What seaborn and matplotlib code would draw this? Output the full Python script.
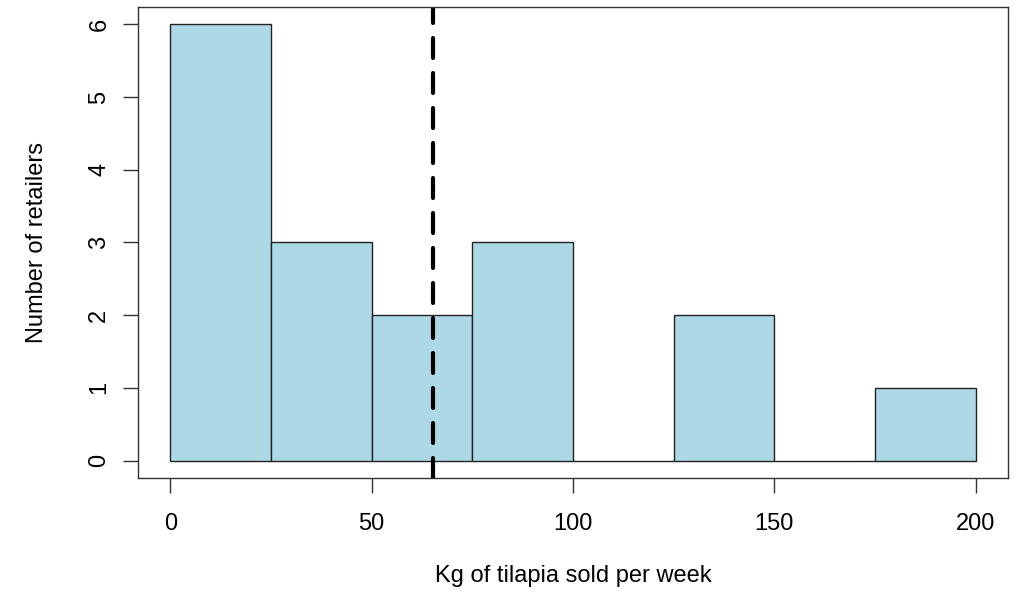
import matplotlib
matplotlib.use("Agg")
import matplotlib.pyplot as plt
import seaborn as sns
import numpy as np

# Data
bin_edges = [0, 25, 50, 75, 100, 125, 150, 175, 200]
bin_centers = [12.5, 37.5, 62.5, 87.5, 112.5, 137.5, 162.5, 187.5]
counts = [6, 3, 2, 3, 0, 2, 0, 1]
mean_value = 65.2
x_ticks = [0, 50, 100, 150, 200]
y_ticks = [0, 1, 2, 3, 4, 5, 6]
x_label = "Kg of tilapia sold per week"
y_label = "Number of retailers"

sns.set_style("white")
plt.rcParams['font.family'] = ['Liberation Sans', 'DejaVu Sans']
plt.rcParams['text.color'] = 'black'
plt.rcParams['axes.labelcolor'] = 'black'
plt.rcParams['xtick.color'] = 'black'
plt.rcParams['ytick.color'] = 'black'

fig = plt.figure(figsize=(10.15, 5.98), dpi=100)
ax = fig.add_axes([0.136, 0.2007, 0.857, 0.7876])

sns.histplot(x=bin_centers, weights=counts, bins=bin_edges, ax=ax,
             color="#ADD8E6", alpha=1.0, edgecolor="#222222", linewidth=1.0)

ax.axvline(mean_value, color="black", linewidth=3.0, linestyle=(0, (4.8, 3.6)),
           dash_capstyle="round")

ax.set_xlim(-8, 208)
ax.set_ylim(-0.24, 6.24)
ax.set_xticks(x_ticks)
ax.set_yticks(y_ticks)
ax.set_xticklabels([str(v) for v in x_ticks], fontsize=17)
ax.set_yticklabels([str(v) for v in y_ticks], fontsize=17, rotation=90, va="center")
ax.tick_params(axis="both", direction="out", length=11, width=1.0, color="#333333",
               labelcolor="black", left=True, bottom=True)
ax.tick_params(axis="x", pad=14)
ax.tick_params(axis="y", pad=9)

for s in ax.spines.values():
    s.set_visible(True)
    s.set_color("#333333")
    s.set_linewidth(1.0)

ax.set_xlabel(x_label, fontsize=17, labelpad=22, color="black")
ax.set_ylabel(y_label, fontsize=17, labelpad=29, color="black")

fig.savefig("out.png", dpi=100)
